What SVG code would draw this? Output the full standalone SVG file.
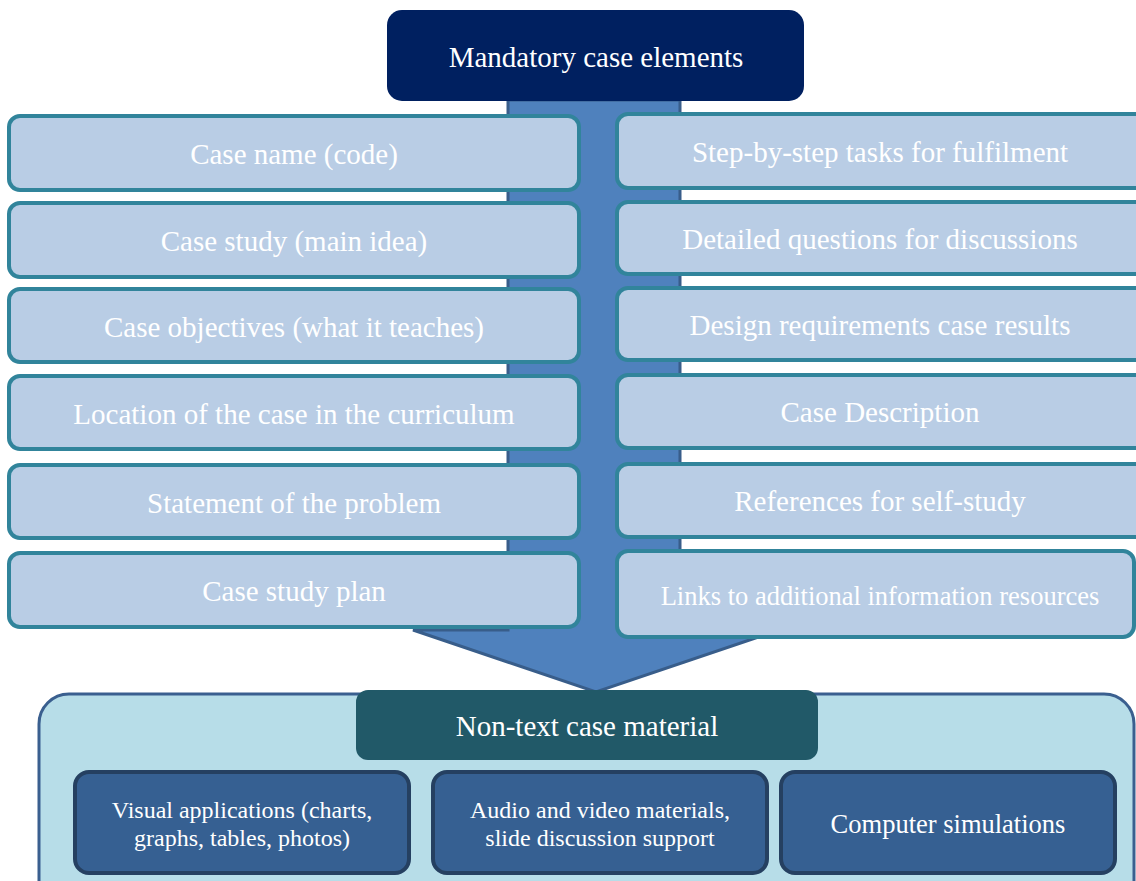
<svg xmlns="http://www.w3.org/2000/svg" width="1136" height="881" viewBox="0 0 1136 881">
<style>
text{font-family:"Liberation Serif","Times New Roman",serif;fill:#ffffff;text-anchor:middle}
.item{fill:#b9cde5;stroke:#31849b;stroke-width:4}
.t29{font-size:29px}
.t26{font-size:26.5px}
.t24{font-size:24px}
.sub{fill:#366092;stroke:#254061;stroke-width:4}
</style>
<rect width="1136" height="881" fill="#ffffff"/>
<g id="connectors">
<polygon points="508,100 680,100 680,630 779,630 596,692 413,630 508,630" fill="#4f81bd" stroke="#385d8a" stroke-width="3" stroke-linejoin="miter"/>
</g>
<g id="title">
<rect x="387" y="10" width="417" height="91" rx="15" fill="#002060"/>
<text class="t29" x="596" y="67">Mandatory case elements</text>
</g>
<g id="l1"><rect class="item" x="9" y="116" width="570" height="74" rx="11"/><text class="t29" x="294" y="164">Case name (code)</text></g>
<g id="l2"><rect class="item" x="9" y="203" width="570" height="74" rx="11"/><text class="t29" x="294" y="251">Case study (main idea)</text></g>
<g id="l3"><rect class="item" x="9" y="289" width="570" height="73" rx="11"/><text class="t29" x="294" y="337">Case objectives (what it teaches)</text></g>
<g id="l4"><rect class="item" x="9" y="376" width="570" height="73" rx="11"/><text class="t29" x="294" y="424">Location of the case in the curriculum</text></g>
<g id="l5"><rect class="item" x="9" y="465" width="570" height="73" rx="11"/><text class="t29" x="294" y="513">Statement of the problem</text></g>
<g id="l6"><rect class="item" x="9" y="553" width="570" height="74" rx="11"/><text class="t29" x="294" y="601">Case study plan</text></g>
<g id="r1"><rect class="item" x="617" y="114" width="530" height="74" rx="11"/><text class="t29" x="880" y="162">Step-by-step tasks for fulfilment</text></g>
<g id="r2"><rect class="item" x="617" y="202" width="530" height="72" rx="11"/><text class="t29" x="880" y="249">Detailed questions for discussions</text></g>
<g id="r3"><rect class="item" x="617" y="288" width="530" height="72" rx="11"/><text class="t29" x="880" y="335">Design requirements case results</text></g>
<g id="r4"><rect class="item" x="617" y="375" width="530" height="73" rx="11"/><text class="t29" x="880" y="422">Case Description</text></g>
<g id="r5"><rect class="item" x="617" y="464" width="530" height="73" rx="11"/><text class="t29" x="880" y="511">References for self-study</text></g>
<g id="r6"><rect class="item" x="617" y="551" width="517" height="86" rx="11"/><text class="t26" x="880" y="605">Links to additional information resources</text></g>
<g id="container">
<rect x="39" y="694" width="1095" height="220" rx="30" fill="#b7dde8" stroke="#3a5f8f" stroke-width="3"/>
</g>
<g id="nontext">
<rect x="356" y="690" width="462" height="70" rx="12" fill="#215968"/>
<text class="t29" x="587" y="736">Non-text case material</text>
</g>
<g id="b1"><rect class="sub" x="75" y="772" width="334" height="101" rx="14"/><text class="t24" x="242" y="818">Visual applications (charts,</text><text class="t24" x="242" y="846">graphs, tables, photos)</text></g>
<g id="b2"><rect class="sub" x="433" y="772" width="334" height="101" rx="14"/><text class="t24" x="600" y="818">Audio and video materials,</text><text class="t24" x="600" y="846">slide discussion support</text></g>
<g id="b3"><rect class="sub" x="781" y="772" width="334" height="101" rx="14"/><text class="t26" x="948" y="833">Computer simulations</text></g>
</svg>
